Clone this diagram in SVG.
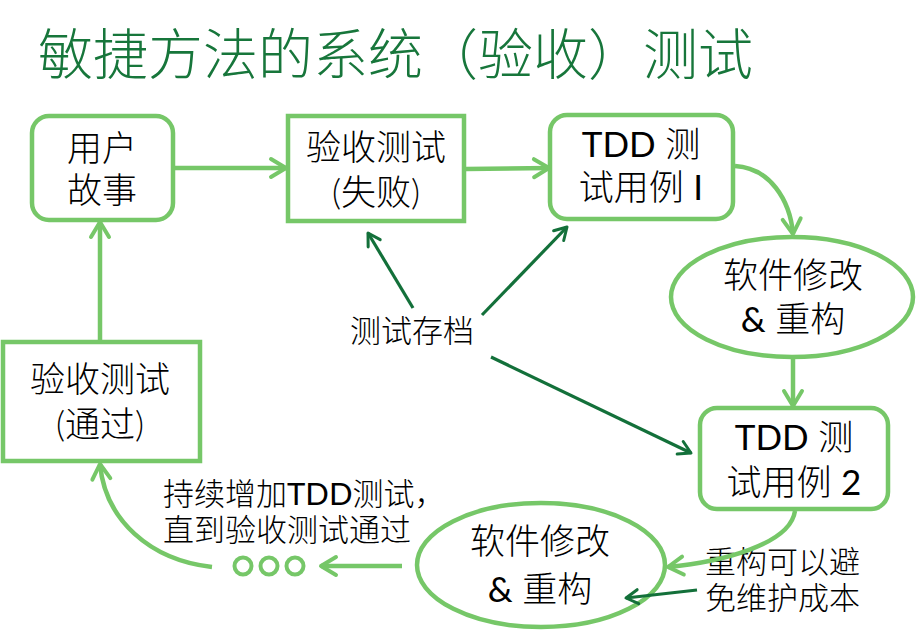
<svg xmlns="http://www.w3.org/2000/svg" width="916" height="636" viewBox="0 0 916 636">
<defs>
<marker id="ah" markerUnits="userSpaceOnUse" viewBox="-20 -13 24 26" markerWidth="24" markerHeight="26" refX="0" refY="0" orient="auto">
<path d="M-15,-9 L0,0 L-15,9" fill="none" stroke="#76c768" stroke-width="4" stroke-linecap="round" stroke-linejoin="round"/>
</marker>
<marker id="ahd" markerUnits="userSpaceOnUse" viewBox="-16 -11 20 22" markerWidth="20" markerHeight="22" refX="0" refY="0" orient="auto">
<path d="M-12,-7 L0,0 L-12,7" fill="none" stroke="#13703a" stroke-width="3" stroke-linecap="round" stroke-linejoin="round"/>
</marker>
</defs>
<style>
.box{fill:#fff;stroke:#76c768;stroke-width:4.5}
.t{font-family:Lato,"Noto Sans CJK SC",sans-serif;font-size:35px;font-weight:300;fill:#000;text-anchor:middle}
.l{font-family:Lato,"Noto Sans CJK SC",sans-serif;font-size:31px;font-weight:300;fill:#000}
.b{font-weight:400}
.c{fill:none;stroke:#76c768;stroke-width:4.5}
.d{fill:none;stroke:#13703a;stroke-width:3.2}
.title{font-family:"Noto Sans CJK SC",sans-serif;font-size:55px;font-weight:300;fill:#17763b}
</style>
<rect width="916" height="636" fill="#fff"/>
<text class="title" x="38" y="74">敏捷方法的系统（验收）测试</text>

<g id="user-story">
<rect class="box" x="32" y="116" width="141" height="104" rx="17"/>
<text class="t" x="102" y="161">用户</text>
<text class="t" x="102" y="203">故事</text>
</g>

<g id="acceptance-fail">
<rect class="box" x="288" y="116" width="176" height="105"/>
<text class="t" x="376" y="160">验收测试</text>
<text class="t" x="376" y="205">(失败)</text>
</g>

<g id="tdd1">
<rect class="box" x="550" y="115" width="183" height="104" rx="17"/>
<text class="t" x="641" y="157"><tspan class="b">TDD</tspan> 测</text>
<text class="t" x="641" y="200">试用例 <tspan class="b">I</tspan></text>
</g>

<g id="refactor1">
<ellipse class="box" cx="792" cy="297" rx="121" ry="60"/>
<text class="t" x="793" y="288">软件修改</text>
<text class="t" x="793" y="332"><tspan class="b">&amp;</tspan> 重构</text>
</g>

<g id="tdd2">
<rect class="box" x="700" y="408" width="188" height="101" rx="17"/>
<text class="t" x="794" y="450"><tspan class="b">TDD</tspan> 测</text>
<text class="t" x="794" y="495">试用例 <tspan class="b">2</tspan></text>
</g>

<g id="refactor2">
<ellipse class="box" cx="541" cy="565" rx="124" ry="62"/>
<text class="t" x="540" y="554">软件修改</text>
<text class="t" x="540" y="602"><tspan class="b">&amp;</tspan> 重构</text>
</g>

<g id="acceptance-pass">
<rect class="box" x="3" y="342" width="197" height="119"/>
<text class="t" x="100" y="392">验收测试</text>
<text class="t" x="100" y="437">(通过)</text>
</g>

<g id="dots">
<circle cx="243" cy="566" r="8.5" fill="none" stroke="#76c768" stroke-width="4"/>
<circle cx="269" cy="566" r="8.5" fill="none" stroke="#76c768" stroke-width="4"/>
<circle cx="295" cy="566" r="8.5" fill="none" stroke="#76c768" stroke-width="4"/>
</g>

<g id="label-archive">
<text class="l" x="350" y="342">测试存档</text>
</g>
<g id="label-continue">
<text class="l" x="163" y="505">持续增加<tspan class="b">TDD</tspan>测试，</text>
<text class="l" x="163" y="541">直到验收测试通过</text>
</g>
<g id="label-refactor">
<text class="l" x="705" y="573">重构可以避</text>
<text class="l" x="705" y="609">免维护成本</text>
</g>

<g id="connectors">
<line class="c" x1="175" y1="168" x2="286" y2="168" marker-end="url(#ah)"/>
<line class="c" x1="466" y1="169" x2="549" y2="168" marker-end="url(#ah)"/>
<path class="c" d="M735,166 C770,168 790,200 793,234" marker-end="url(#ah)"/>
<line class="c" x1="793" y1="359" x2="793" y2="406" marker-end="url(#ah)"/>
<path class="c" d="M795,511 C790,545 720,562 668,567" marker-end="url(#ah)"/>
<line class="c" x1="402" y1="566" x2="321" y2="566" marker-end="url(#ah)"/>
<path class="c" d="M212,567 C150,560 105,520 100,464" marker-end="url(#ah)"/>
<line class="c" x1="100" y1="340" x2="100" y2="222" marker-end="url(#ah)"/>
<line class="d" x1="413" y1="308" x2="368" y2="233" marker-end="url(#ahd)"/>
<line class="d" x1="482" y1="315" x2="567" y2="227" marker-end="url(#ahd)"/>
<line class="d" x1="491" y1="357" x2="691" y2="453" marker-end="url(#ahd)"/>
<line class="d" x1="697" y1="590" x2="626" y2="598" marker-end="url(#ahd)"/>
</g>
</svg>
